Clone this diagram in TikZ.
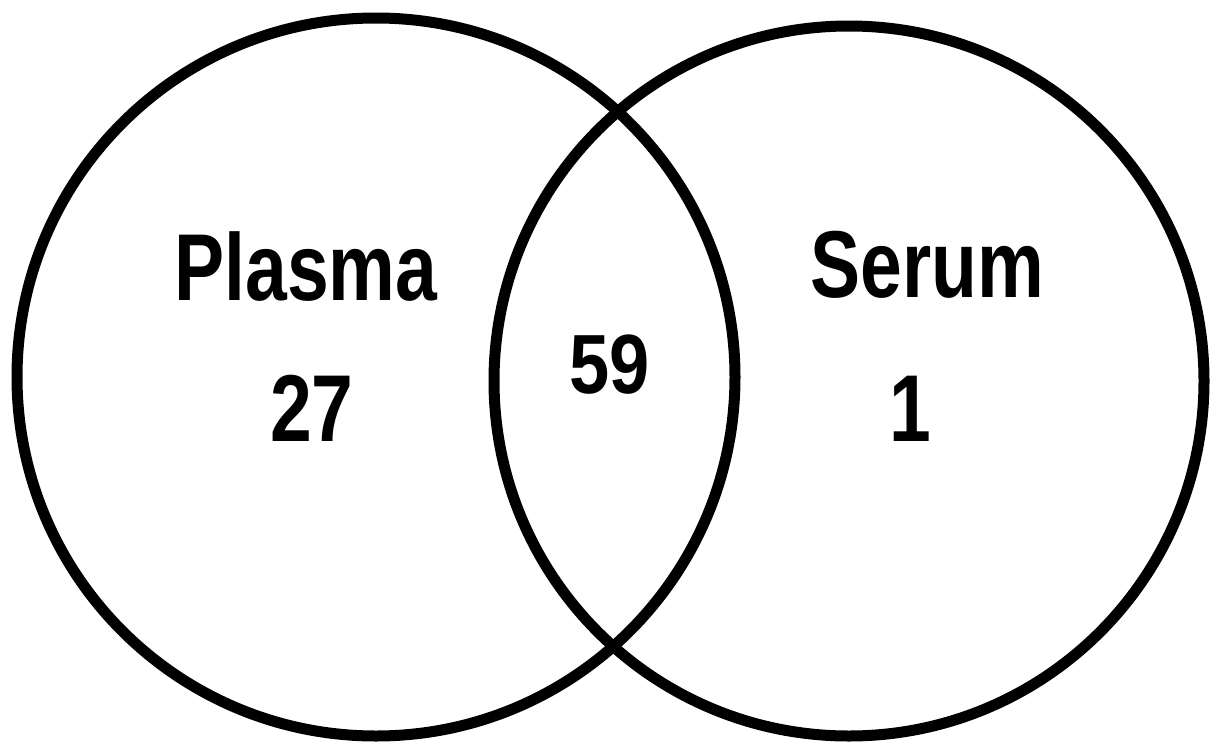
\documentclass[tikz,border=0pt]{standalone}
\usepackage{fontspec}
\setmainfont{Liberation Sans}
\begin{document}
\begin{tikzpicture}[x=1pt,y=-1pt,
  setcircle/.style={circle,draw=black,line width=11pt,inner sep=0pt,minimum size=#1},
  biglabel/.style={font=\fontsize{95}{100}\selectfont\bfseries,inner sep=0pt,anchor=base,xscale=0.79},
  midlabel/.style={font=\fontsize{84}{90}\selectfont\bfseries,inner sep=0pt,anchor=base,xscale=0.86}]
\useasboundingbox[fill=white] (0,0) rectangle (1218,755);
\node[setcircle=718pt] (plasma) at (376,377) {};
\node[setcircle=710pt] (serum) at (849,381) {};
\node[biglabel] (tplasma) at (306,300) {Plasma};
\node[biglabel] (n27) at (312,441) {27};
\node[midlabel] (n59) at (610,393) {59};
\node[biglabel] (tserum) at (927,297) {Serum};
\node[biglabel] (n1) at (910,441) {1};
\end{tikzpicture}
\end{document}
